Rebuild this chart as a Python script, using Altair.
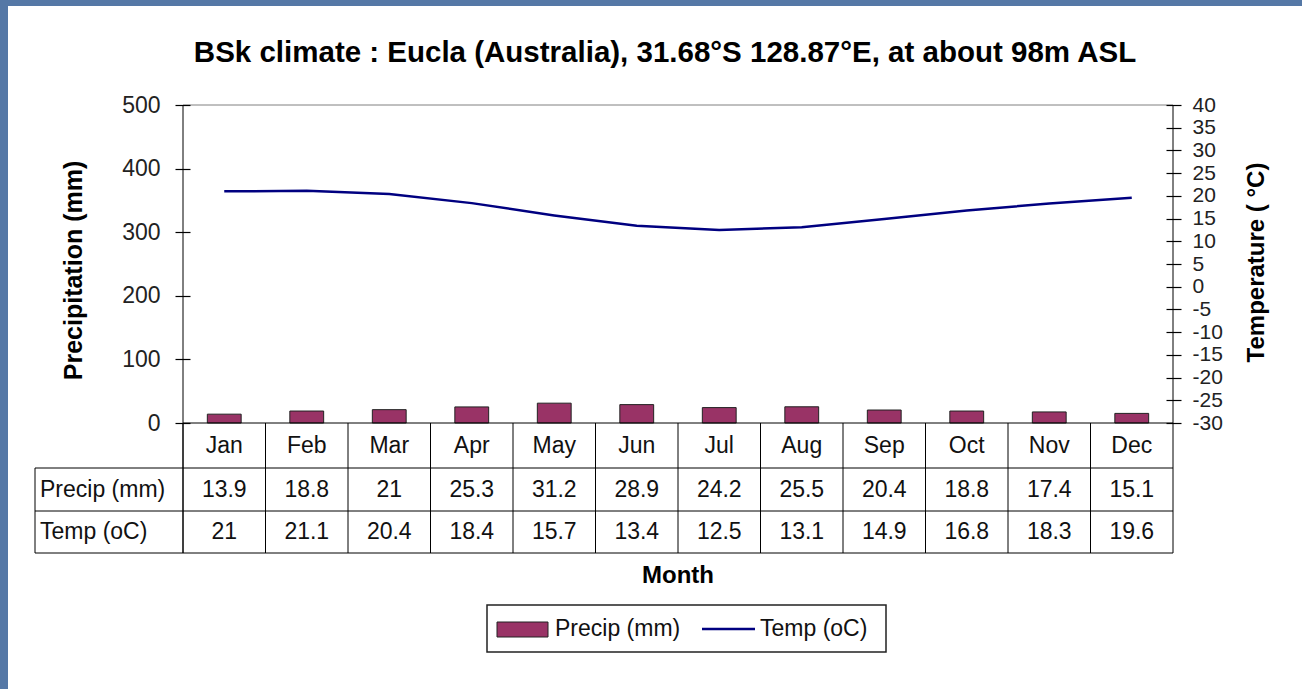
import altair as alt
import pandas as pd

# Monthly climate normals for Eucla, Western Australia
MONTHS = ["Jan", "Feb", "Mar", "Apr", "May", "Jun", "Jul", "Aug", "Sep", "Oct", "Nov", "Dec"]
PRECIP_MM = [13.9, 18.8, 21, 25.3, 31.2, 28.9, 24.2, 25.5, 20.4, 18.8, 17.4, 15.1]
TEMP_C = [21, 21.1, 20.4, 18.4, 15.7, 13.4, 12.5, 13.1, 14.9, 16.8, 18.3, 19.6]

PRECIP_TICKS = [0, 100, 200, 300, 400, 500]
TEMP_TICKS = [-30, -25, -20, -15, -10, -5, 0, 5, 10, 15, 20, 25, 30, 35, 40]

TITLE = "BSk climate : Eucla (Australia), 31.68°S 128.87°E, at about 98m ASL"
X_TITLE = "Month"
ROW_LABELS = ["Precip (mm)", "Temp (oC)"]

df = pd.DataFrame({"Month": MONTHS, "Precip": PRECIP_MM, "Temp": TEMP_C})
one = alt.Data(values=[{"k": 0}])  # single-row source for decorations

W, H = 990, 318
FONT = "Liberation Sans"
BAR = "#993366"
LINE = "#000080"
INK = "#111111"
FS = 23

# table geometry (plot coordinates, below the x axis)
ROW1_Y, ROW2_Y, ROW3_Y = 340.5, 384.5, 427
ROW_LINES = [363, 406, 448]
LABEL_COL_X = -148

x_scale = alt.Scale(type="band", domain=MONTHS, paddingInner=0, paddingOuter=0)


def xm(pos=0.5):
    return alt.X("Month:N", scale=x_scale, sort=MONTHS, bandPosition=pos, axis=None)


def deco():
    return alt.Chart(one)


# page background panel
panel = deco().mark_rect(color="white").encode(
    x=alt.value(-175), x2=alt.value(1119), y=alt.value(-99), y2=alt.value(584)
)

title = deco().mark_text(
    text=TITLE, font=FONT, fontSize=29.5, fontWeight="bold", color="black",
    align="center", baseline="alphabetic",
).encode(x=alt.value(482), y=alt.value(-43))

month_title = deco().mark_text(
    text=X_TITLE, font=FONT, fontSize=24, fontWeight="bold", color="black",
    align="center", baseline="middle",
).encode(x=alt.value(W / 2), y=alt.value(471))

top_border = deco().mark_rule(color="#808080", strokeWidth=1).encode(
    x=alt.value(0), x2=alt.value(W), y=alt.value(0)
)
x_base = deco().mark_rule(color="black", strokeWidth=1).encode(
    x=alt.value(0), x2=alt.value(W), y=alt.value(H)
)

bars = alt.Chart(df).mark_bar(
    width=alt.RelativeBandSize(0.41), color=BAR, stroke="#222222", strokeWidth=1
).encode(
    x=xm(0.5),
    y=alt.Y(
        "Precip:Q", scale=alt.Scale(domain=[0, 500], nice=False),
        axis=alt.Axis(
            title="Precipitation (mm)", orient="left", values=PRECIP_TICKS,
            offset=-7, tickSize=15, tickColor="black", tickWidth=1.2,
            domain=False, grid=False, zindex=1, labelOverlap=False,
            labelPadding=15, labelFont=FONT, labelFontSize=FS, labelColor="#222222",
            titleX=-117, titleY=165, titleAngle=270, titleAlign="center",
            titleBaseline="middle", titleFont=FONT, titleFontSize=25,
            titleFontWeight="bold", titleColor="black",
        ),
    ),
)

line = alt.Chart(df).mark_line(color=LINE, strokeWidth=2.5).encode(
    x=xm(0.5),
    y=alt.Y(
        "Temp:Q", scale=alt.Scale(domain=[-30, 40], nice=False),
        axis=alt.Axis(
            title="Temperature ( °C)", orient="right", values=TEMP_TICKS,
            offset=-7, tickSize=15, tickColor="black", tickWidth=1.2,
            domain=False, grid=False, zindex=1, labelOverlap=False,
            labelExpr="datum.value + ''",
            labelPadding=11, labelFont=FONT, labelFontSize=21, labelColor="#222222",
            titleX=90, titleY=157, titleAngle=270, titleAlign="center",
            titleBaseline="middle", titleFont=FONT, titleFontSize=24,
            titleFontWeight="bold", titleColor="black",
        ),
    ),
)

# data table grid
left_line = deco().mark_rule(color="black").encode(
    x=alt.value(0), y=alt.value(0), y2=alt.value(ROW_LINES[-1])
)
right_line = deco().mark_rule(color="black").encode(
    x=alt.value(W), y=alt.value(0), y2=alt.value(ROW_LINES[-1])
)
label_col_line = deco().mark_rule(color="black").encode(
    x=alt.value(LABEL_COL_X), y=alt.value(ROW_LINES[0]), y2=alt.value(ROW_LINES[-1])
)
col_lines = alt.Chart(df).mark_rule(color="black").encode(
    x=xm(0), y=alt.value(H), y2=alt.value(ROW_LINES[-1])
)
row_lines = [
    deco().mark_rule(color="black").encode(
        x=alt.value(LABEL_COL_X), x2=alt.value(W), y=alt.value(yv)
    )
    for yv in ROW_LINES
]

cell_style = dict(font=FONT, fontSize=FS, color=INK, baseline="middle")
month_text = alt.Chart(df).mark_text(**cell_style).encode(
    x=xm(0.5), y=alt.value(ROW1_Y), text="Month:N"
)
precip_text = alt.Chart(df).mark_text(**cell_style).encode(
    x=xm(0.5), y=alt.value(ROW2_Y), text=alt.Text("Precip:Q", format="~g")
)
temp_text = alt.Chart(df).mark_text(**cell_style).encode(
    x=xm(0.5), y=alt.value(ROW3_Y), text=alt.Text("Temp:Q", format="~g")
)
row_label_precip = deco().mark_text(text=ROW_LABELS[0], align="left", **cell_style).encode(
    x=alt.value(LABEL_COL_X + 5), y=alt.value(ROW2_Y)
)
row_label_temp = deco().mark_text(text=ROW_LABELS[1], align="left", **cell_style).encode(
    x=alt.value(LABEL_COL_X + 5), y=alt.value(ROW3_Y)
)

# legend box
leg_box = deco().mark_rect(fill="white", stroke="#222222", strokeWidth=1.5).encode(
    x=alt.value(304), x2=alt.value(703), y=alt.value(500), y2=alt.value(547)
)
leg_bar = deco().mark_rect(fill=BAR, stroke="#222222", strokeWidth=1).encode(
    x=alt.value(314), x2=alt.value(365), y=alt.value(517), y2=alt.value(532)
)
leg_bar_text = deco().mark_text(text=ROW_LABELS[0], align="left", **cell_style).encode(
    x=alt.value(372), y=alt.value(524)
)
leg_line = deco().mark_rule(color=LINE, strokeWidth=2.5).encode(
    x=alt.value(519), x2=alt.value(572), y=alt.value(524)
)
leg_line_text = deco().mark_text(text=ROW_LABELS[1], align="left", **cell_style).encode(
    x=alt.value(577), y=alt.value(524)
)

chart = alt.layer(
    panel, title, month_title, top_border, bars, line, x_base,
    left_line, right_line, label_col_line, col_lines, *row_lines,
    month_text, precip_text, temp_text, row_label_precip, row_label_temp,
    leg_box, leg_bar, leg_bar_text, leg_line, leg_line_text,
).resolve_scale(
    y="independent"
).properties(
    width=W, height=H,
    padding={"left": 183, "top": 105, "right": 129, "bottom": 266},
    autosize=alt.AutoSizeParams(type="none"),
    background="#5578a6",
).configure_view(
    stroke="transparent"
)

chart.save("out.html", embed_options={"renderer": "svg", "actions": False})
